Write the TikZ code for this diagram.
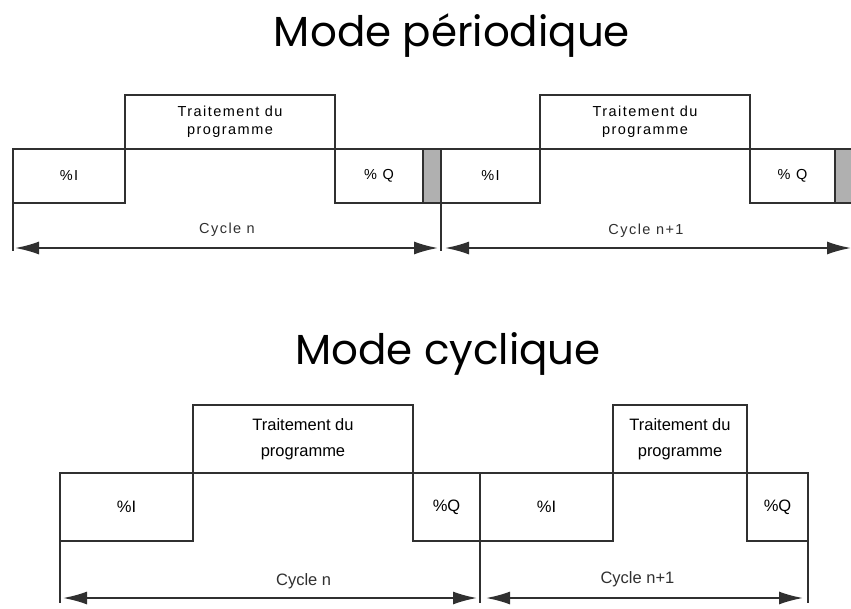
\documentclass[tikz,border=0pt]{standalone}
\usepackage{fontspec}
\setmainfont{Liberation Sans}
\newfontfamily\widefont[LetterSpace=10]{Liberation Sans}
\newfontfamily\titlefont{Poppins}
\usepackage{xcolor}
\usetikzlibrary{arrows.meta,positioning}
\definecolor{linegray}{HTML}{303030}
\definecolor{barfill}{HTML}{B0B0B0}

\begin{document}
\begin{tikzpicture}[
      x=1pt, y=-1pt,
      node distance=0pt and 0pt,
      cell/.style={draw=linegray, line width=1.3pt, align=center, inner sep=0pt, outer sep=0pt},
      topcell/.style={cell, minimum height=54pt, font=\widefont\fontsize{14.5}{18}\selectfont},
      lowcell/.style={cell, minimum height=68pt, font=\fontsize{16.5}{26}\selectfont},
      guide/.style={draw=linegray, line width=1.3pt},
      dim/.style={{Latex[length=24pt,width=13pt]}-{Latex[length=24pt,width=13pt]}, linegray, line width=1.8pt},
      title/.style={font=\titlefont\fontsize{42}{46}\selectfont, anchor=base}
    ]
    \useasboundingbox[fill=white] (0,0) rectangle (851,608);

    \node[title] (tper) at (452,46) {Mode périodique};
    \node[title] (tcyc) at (448,364) {Mode cyclique};

    % periodic mode
    \node[topcell, minimum width=112pt, anchor=north west] (inA) at (13,149) {\%I};
    \node[topcell, minimum width=210pt, above right=of inA] (trtA) {Traitement du\\programme};
    \node[topcell, minimum width=88pt, below right=of trtA] (outA) {\% Q};
    \node[topcell, minimum width=18pt, right=of outA, fill=barfill] (gapA) {};
    \node[topcell, minimum width=99pt, right=of gapA] (inB) {\%I};
    \node[topcell, minimum width=210pt, above right=of inB] (trtB) {Traitement du\\programme};
    \node[topcell, minimum width=85pt, below right=of trtB] (outB) {\% Q};
    \coordinate (gapBtop) at (851,149);
    \coordinate (gapBbot) at (851,203);
    \fill[barfill] (outB.north east) rectangle (gapBbot);
    \draw[guide] (gapBtop) -- (outB.north east) -- (outB.south east) -- (gapBbot);

    \coordinate (lowA) at (0,251);
    \coordinate (dimA) at (0,248);
    \coordinate (arrC) at (851,248);
    \draw[guide] (inA.north west) -- (inA.north west |- lowA);
    \draw[guide] (gapA.south east) -- (gapA.south east |- lowA);
    \draw[dim, shorten <=2pt, shorten >=3pt] (inA.west |- dimA) -- (gapA.east |- dimA)
      node[midway, yshift=18pt, font=\widefont\fontsize{14.5}{16}\selectfont, text=linegray] (cycA) {Cycle n};
    \draw[dim, shorten <=4pt] (gapA.east |- dimA) -- (arrC)
      node[midway, yshift=17pt, font=\widefont\fontsize{14.5}{16}\selectfont, text=linegray] (cycB) {Cycle n+1};

    % cyclic mode
    \node[lowcell, minimum width=133pt, anchor=north west] (inC) at (60,473) {\%I};
    \node[lowcell, minimum width=220pt, above right=of inC] (trtC) {Traitement du\\programme};
    \node[lowcell, minimum width=67pt, below right=of trtC] (outC) {\%Q};
    \node[lowcell, minimum width=133pt, right=of outC] (inD) {\%I};
    \node[lowcell, minimum width=134pt, above right=of inD] (trtD) {Traitement du\\programme};
    \node[lowcell, minimum width=61pt, below right=of trtD] (outD) {\%Q};

    \coordinate (lowC) at (0,603);
    \coordinate (dimC) at (0,598);
    \draw[guide] (inC.south west) -- (inC.south west |- lowC);
    \draw[guide] (outC.south east) -- (outC.south east |- lowC);
    \draw[guide] (outD.south east) -- (outD.south east |- lowC);
    \draw[dim, shorten <=3pt, shorten >=3pt] (inC.west |- dimC) -- (outC.east |- dimC)
      node[pos=0.58, yshift=17pt, font=\fontsize{16.5}{18}\selectfont, text=linegray] (cycC) {Cycle n};
    \draw[dim, shorten <=6pt, shorten >=5pt] (outC.east |- dimC) -- (outD.east |- dimC)
      node[pos=0.48, yshift=19pt, font=\fontsize{16.5}{18}\selectfont, text=linegray] (cycD) {Cycle n+1};
  \end{tikzpicture}
\end{document}
